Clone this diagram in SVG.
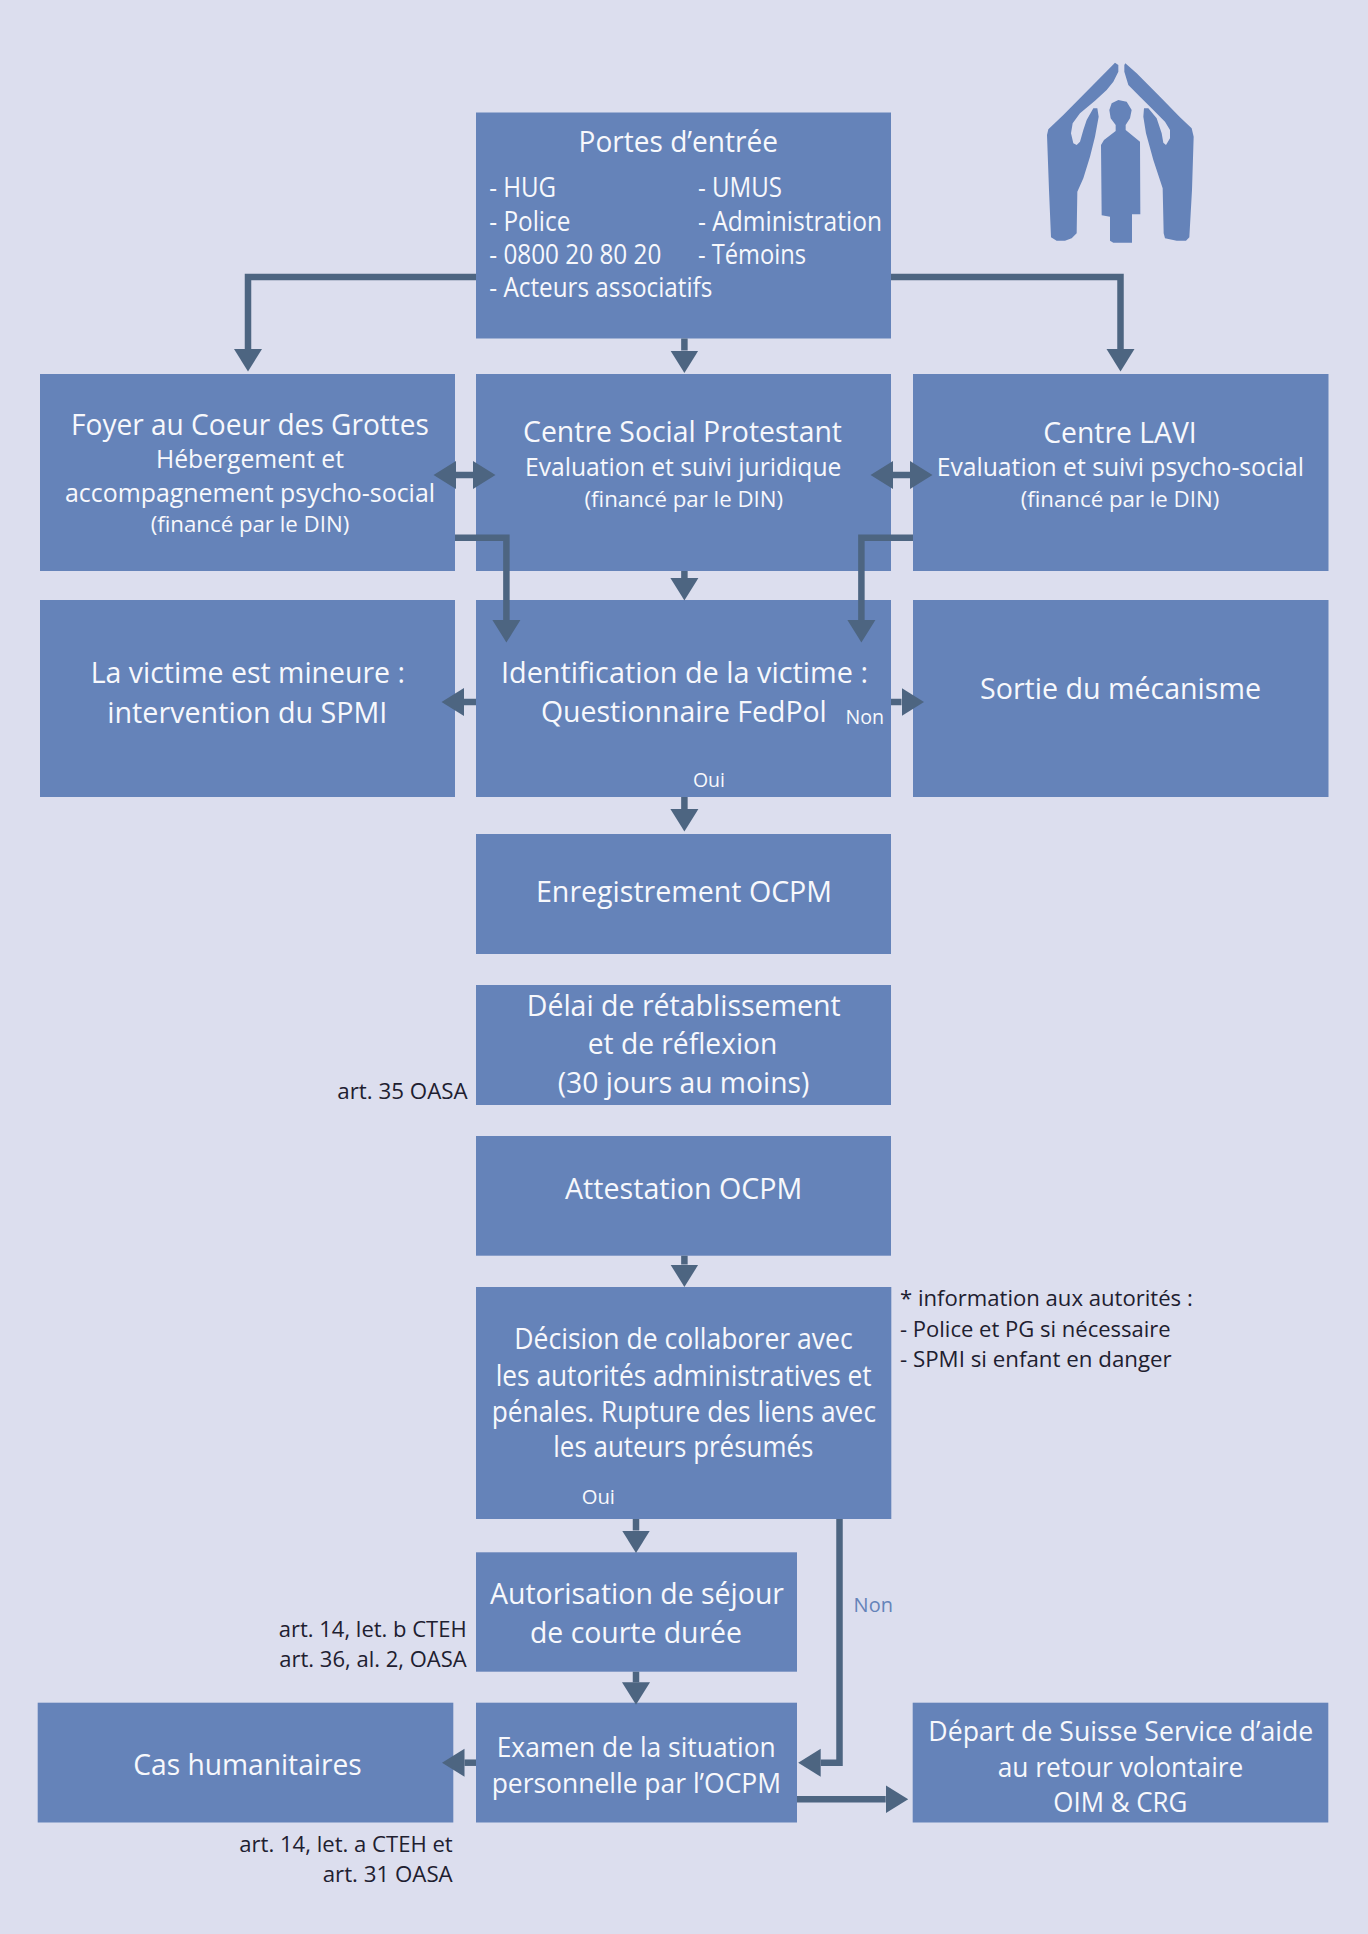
<svg xmlns="http://www.w3.org/2000/svg" width="1368" height="1934" viewBox="0 0 1368 1934">
<style>
.box{fill:#6583b9}
text{font-family:"Open Sans","Noto Sans","Liberation Sans",sans-serif;fill:#f7f8fc}
.t{font-size:29px}
.u{font-size:28px}
.m{font-size:26.500px}
.s{font-size:26px}
.f{font-size:22.500px}
.l{font-size:19.500px}
.n{font-size:22.500px;fill:#1e2030}
.b{font-size:20px;fill:#6583b9}
.c{fill:none;stroke:#4d6581;stroke-width:6.5;marker-end:url(#h)}
.d{marker-start:url(#h)}
</style>
<defs>
<marker id="h" markerUnits="userSpaceOnUse" markerWidth="23" markerHeight="29" viewBox="0 0 23 29" refX="0" refY="14.5" orient="auto-start-reverse"><path d="M0 .5L22.500 14.500L0 28.500z" fill="#4d6581"/></marker>
</defs>
<rect id="background" width="1368" height="1934" fill="#dcdeee"/>
<g id="icon" transform="translate(980 30) scale(.33333)" fill="#6583b9">
<path d="M405 98L415 105L415 125L400 155L380 180L345 212L300 250L278 280L273 310L280 340L290 345L300 335L310 300L320 270L340 235L352 235L356 260L345 320L330 380L310 445L292 485L290 610L275 625L255 632L230 632L213 622L207 480L201 315L205 298L250 255z"/>
<path d="M436 100L470 130L540 200L600 262L635 295L641 320L636 480L628 622L618 632L590 632L555 625L551 610L548 475L520 390L498 310L490 260L492 235L505 235L530 265L545 310L550 338L558 345L570 325L570 300L555 275L520 240L480 200L445 165L433 125L433 105z"/>
<path d="M415 210L440 215L455 240L450 265L437 285L437 300L480 335L481 553L456 553L456 638L400 638L390 632L390 560L365 556L363 345L372 330L407 303L407 285L392 265L388 240L395 220z"/>
</g>
<g id="node-portes">
<rect class="box" x="476" y="112.500" width="415" height="226"/>
<text class="t" x="578.600" y="152.300" textLength="199.300" lengthAdjust="spacingAndGlyphs">Portes d’entrée</text>
<text class="m" x="489.300" y="197.300" textLength="66.800" lengthAdjust="spacingAndGlyphs">- HUG</text>
<text class="m" x="489.300" y="230.700" textLength="81" lengthAdjust="spacingAndGlyphs">- Police</text>
<text class="m" x="489.300" y="263.700" textLength="172" lengthAdjust="spacingAndGlyphs">- 0800 20 80 20</text>
<text class="m" x="489.300" y="296.700" textLength="223" lengthAdjust="spacingAndGlyphs">- Acteurs associatifs</text>
<text class="m" x="698" y="197.300" textLength="84" lengthAdjust="spacingAndGlyphs">- UMUS</text>
<text class="m" x="698" y="230.700" textLength="184" lengthAdjust="spacingAndGlyphs">- Administration</text>
<text class="m" x="698" y="263.700" textLength="108" lengthAdjust="spacingAndGlyphs">- Témoins</text>
</g>
<g id="node-foyer">
<rect class="box" x="40" y="374" width="415" height="197"/>
<text class="t" x="71" y="435" textLength="358" lengthAdjust="spacingAndGlyphs">Foyer au Coeur des Grottes</text>
<text class="s" x="156" y="468" textLength="188" lengthAdjust="spacingAndGlyphs">Hébergement et</text>
<text class="s" x="65" y="501.700" textLength="370" lengthAdjust="spacingAndGlyphs">accompagnement psycho-social</text>
<text class="f" x="150.700" y="532" textLength="198.600" lengthAdjust="spacingAndGlyphs">(financé par le DIN)</text>
</g>
<g id="node-csp">
<rect class="box" x="476" y="374" width="415" height="197"/>
<text class="t" x="523" y="442.300" textLength="319" lengthAdjust="spacingAndGlyphs">Centre Social Protestant</text>
<text class="s" x="525" y="475.700" textLength="316.400" lengthAdjust="spacingAndGlyphs">Evaluation et suivi juridique</text>
<text class="f" x="584.500" y="506.700" textLength="198.600" lengthAdjust="spacingAndGlyphs">(financé par le DIN)</text>
</g>
<g id="node-lavi">
<rect class="box" x="913" y="374" width="415.500" height="197"/>
<text class="t" x="1043.300" y="443.300" textLength="153.400" lengthAdjust="spacingAndGlyphs">Centre LAVI</text>
<text class="s" x="936.700" y="476" textLength="367.300" lengthAdjust="spacingAndGlyphs">Evaluation et suivi psycho-social</text>
<text class="f" x="1020.700" y="506.700" textLength="198.600" lengthAdjust="spacingAndGlyphs">(financé par le DIN)</text>
</g>
<g id="node-mineure">
<rect class="box" x="40" y="600" width="415" height="197"/>
<text class="t" x="90.700" y="683.300" textLength="314.300" lengthAdjust="spacingAndGlyphs">La victime est mineure :</text>
<text class="t" x="107.300" y="722.700" textLength="280" lengthAdjust="spacingAndGlyphs">intervention du SPMI</text>
</g>
<g id="node-identification">
<rect class="box" x="476" y="600" width="415" height="197"/>
<text class="t" x="501" y="682.700" textLength="367" lengthAdjust="spacingAndGlyphs">Identification de la victime :</text>
<text class="t" x="541" y="721.700" textLength="285.800" lengthAdjust="spacingAndGlyphs">Questionnaire FedPol</text>
<text class="l" x="845.400" y="724.300" textLength="38.600" lengthAdjust="spacingAndGlyphs">Non</text>
<text class="l" x="692.900" y="786.700" textLength="32" lengthAdjust="spacingAndGlyphs">Oui</text>
</g>
<g id="node-sortie">
<rect class="box" x="913" y="600" width="415.500" height="197"/>
<text class="t" x="980" y="699" textLength="281" lengthAdjust="spacingAndGlyphs">Sortie du mécanisme</text>
</g>
<g id="node-enregistrement">
<rect class="box" x="476" y="834" width="415" height="120"/>
<text class="t" x="536" y="901.700" textLength="296" lengthAdjust="spacingAndGlyphs">Enregistrement OCPM</text>
</g>
<g id="node-delai">
<rect class="box" x="476" y="985" width="415" height="120"/>
<text class="t" x="526.700" y="1016" textLength="314" lengthAdjust="spacingAndGlyphs">Délai de rétablissement</text>
<text class="t" x="587.700" y="1054" textLength="189.600" lengthAdjust="spacingAndGlyphs">et de réflexion</text>
<text class="t" x="557.700" y="1092.700" textLength="251.600" lengthAdjust="spacingAndGlyphs">(30 jours au moins)</text>
</g>
<text class="n" x="337.300" y="1099.300" textLength="130.400" lengthAdjust="spacingAndGlyphs">art. 35 OASA</text>
<g id="node-attestation">
<rect class="box" x="476" y="1136" width="415" height="119.700"/>
<text class="t" x="565" y="1199.300" textLength="237.300" lengthAdjust="spacingAndGlyphs">Attestation OCPM</text>
</g>
<g id="node-decision">
<rect class="box" x="476" y="1287" width="415.300" height="232"/>
<text class="t" x="514.300" y="1349.300" textLength="338.400" lengthAdjust="spacingAndGlyphs">Décision de collaborer avec</text>
<text class="t" x="495.700" y="1385.700" textLength="376" lengthAdjust="spacingAndGlyphs">les autorités administratives et</text>
<text class="t" x="491.700" y="1421.700" textLength="384.300" lengthAdjust="spacingAndGlyphs">pénales. Rupture des liens avec</text>
<text class="t" x="553.300" y="1457.300" textLength="260" lengthAdjust="spacingAndGlyphs">les auteurs présumés</text>
<text class="l" x="581.700" y="1504" textLength="33.300" lengthAdjust="spacingAndGlyphs">Oui</text>
</g>
<text class="n" x="900" y="1306" textLength="292.700" lengthAdjust="spacingAndGlyphs">* information aux autorités :</text>
<text class="n" x="900" y="1336.700" textLength="270.700" lengthAdjust="spacingAndGlyphs">- Police et PG si nécessaire</text>
<text class="n" x="900" y="1367.300" textLength="271.700" lengthAdjust="spacingAndGlyphs">- SPMI si enfant en danger</text>
<g id="node-autorisation">
<rect class="box" x="476" y="1552.300" width="321" height="119.400"/>
<text class="t" x="490" y="1604.300" textLength="294" lengthAdjust="spacingAndGlyphs">Autorisation de séjour</text>
<text class="t" x="530" y="1643.300" textLength="212" lengthAdjust="spacingAndGlyphs">de courte durée</text>
</g>
<text class="n" x="278.700" y="1637.300" textLength="188" lengthAdjust="spacingAndGlyphs">art. 14, let. b CTEH</text>
<text class="n" x="279.300" y="1667.300" textLength="187.400" lengthAdjust="spacingAndGlyphs">art. 36, al. 2, OASA</text>
<g id="node-cas">
<rect class="box" x="37.700" y="1702.700" width="415.600" height="119.800"/>
<text class="t" x="133.300" y="1775" textLength="228.400" lengthAdjust="spacingAndGlyphs">Cas humanitaires</text>
</g>
<text class="n" x="239.300" y="1852.300" textLength="213.400" lengthAdjust="spacingAndGlyphs">art. 14, let. a CTEH et</text>
<text class="n" x="322.700" y="1882" textLength="130" lengthAdjust="spacingAndGlyphs">art. 31 OASA</text>
<g id="node-examen">
<rect class="box" x="476" y="1702.700" width="321" height="119.800"/>
<text class="u" x="496.700" y="1757.300" textLength="279" lengthAdjust="spacingAndGlyphs">Examen de la situation</text>
<text class="u" x="491.700" y="1792.700" textLength="289.300" lengthAdjust="spacingAndGlyphs">personnelle par l’OCPM</text>
</g>
<g id="node-depart">
<rect class="box" x="912.700" y="1702.700" width="415.600" height="119.800"/>
<text class="u" x="928.300" y="1740.700" textLength="385" lengthAdjust="spacingAndGlyphs">Départ de Suisse Service d’aide</text>
<text class="u" x="997.700" y="1776.700" textLength="245.600" lengthAdjust="spacingAndGlyphs">au retour volontaire</text>
<text class="u" x="1053.300" y="1811.700" textLength="134" lengthAdjust="spacingAndGlyphs">OIM &amp; CRG</text>
</g>
<text class="b" x="853.600" y="1612" textLength="39.300" lengthAdjust="spacingAndGlyphs">Non</text>
<g id="connectors">
<path class="c" d="M476 277H248V349"/>
<path class="c" d="M891 277H1120.500V349"/>
<path class="c" d="M684.400 338.500V350.500"/>
<path class="c d" d="M456 475H473"/>
<path class="c d" d="M893 475H910"/>
<path class="c" d="M684.400 571V578"/>
<path class="c" d="M455 537.700H506.400V620"/>
<path class="c" d="M913 537.700H861.400V620"/>
<path class="c" d="M476 702H464"/>
<path class="c" d="M891 702H901.500"/>
<path class="c" d="M684.400 797V809"/>
<path class="c" d="M684.400 1255.700V1264.500"/>
<path class="c" d="M636 1519V1530.500"/>
<path class="c" d="M636 1671.700V1682.300"/>
<path class="c" d="M839.500 1519V1762.700H820.700"/>
<path class="c" d="M797 1799.300H885.700"/>
<path class="c" d="M476 1762.700H464.500"/>
</g>
</svg>
